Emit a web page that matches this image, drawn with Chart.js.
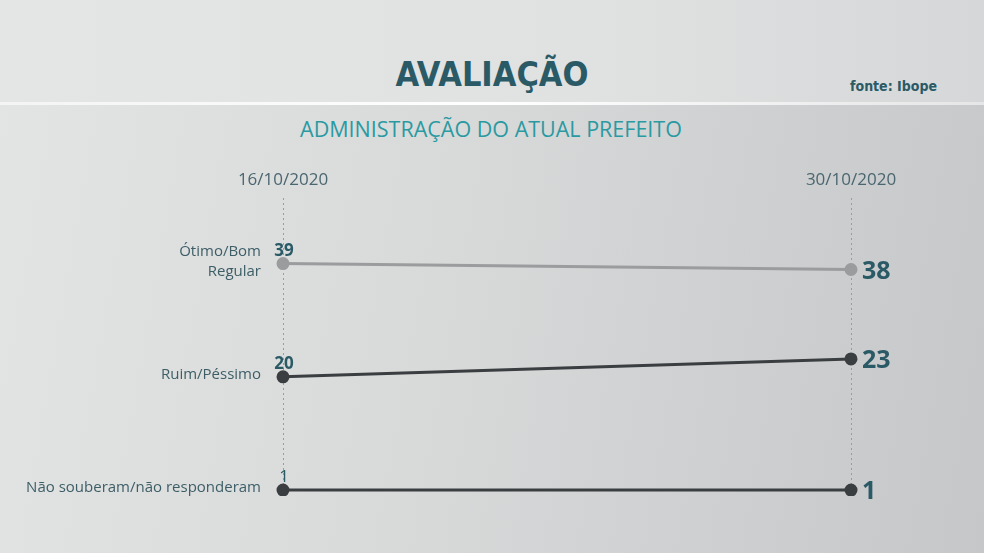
<!DOCTYPE html>
<html>
<head>
<meta charset="utf-8">
<script src="https://cdn.jsdelivr.net/npm/chart.js@4"></script>
<style>
  html, body { margin: 0; padding: 0; }
  body {
    width: 984px; height: 553px; overflow: hidden; position: relative;
    background: linear-gradient(100deg, #e3e4e4 0%, #d8d9d9 45%, #c6c7c9 100%);
    font-family: Lato, "Open Sans", sans-serif;
  }
  #header {
    position: absolute; left: 0; top: 0; width: 984px; height: 102px;
    background: linear-gradient(90deg, #e4e5e5 0%, #e0e1e1 60%, #d6d7d8 100%);
  }
  #rule {
    position: absolute; left: 0; top: 102px; width: 984px; height: 3px;
    background: linear-gradient(90deg, #f4f4f4, #ffffff 50%, #e6e6e6);
  }
  #title {
    position: absolute; left: 0; width: 984px; top: 54px; text-align: center;
    font-family: "DejaVu Sans Condensed", "DejaVu Sans", sans-serif; font-weight: bold;
    font-size: 34px; color: #2a5a66;
  }
  #fonte {
    position: absolute; left: 850px; top: 78px;
    font-family: "DejaVu Sans Condensed", sans-serif; font-weight: bold;
    font-size: 14px; color: #2a5a66;
  }
  #subtitle {
    position: absolute; left: 0; width: 982px; top: 114px; text-align: center;
    font-family: "Open Sans", sans-serif; font-size: 21.5px; color: #2a9aa2;
  }
  #wrap { position: absolute; left: 0; top: 0; width: 984px; height: 553px; }
</style>
</head>
<body>
<div id="header"></div>
<div id="rule"></div>
<div id="title">AVALIAÇÃO</div>
<div id="fonte">fonte: Ibope</div>
<div id="subtitle">ADMINISTRAÇÃO DO ATUAL PREFEITO</div>
<div id="wrap"><canvas id="chart"></canvas></div>
<script>
var dates = ['16/10/2020', '30/10/2020'];
var otimoBom = [39, 38];
var ruimPessimo = [20, 23];
var naoSouberam = [1, 1];
var seriesNames = [['Ótimo/Bom', 'Regular'], ['Ruim/Péssimo'], ['Não souberam/não responderam']];

var labelPlugin = {
    id: 'valueLabels',
    afterDatasetsDraw: function(chart) {
        var ctx = chart.ctx;
        ctx.save();
        chart.data.datasets.forEach(function(ds, i) {
            var pts = chart.getDatasetMeta(i).data;
            var first = pts[0], last = pts[pts.length - 1];
            var small = ds.data[0] < 10;

            // left value, above the first point
            ctx.fillStyle = '#2a5a66';
            ctx.textAlign = 'center';
            ctx.textBaseline = 'bottom';
            ctx.font = small ? '17px "Open Sans", sans-serif' : 'bold 17px "Open Sans", sans-serif';
            ctx.fillText(ds.data[0], first.x + 1, first.y - 4);

            // right value, next to the last point
            ctx.textAlign = 'left';
            ctx.textBaseline = 'middle';
            ctx.font = 'bold 25px "Open Sans", sans-serif';
            ctx.fillText(ds.data[ds.data.length - 1], last.x + 11, last.y + 2);

            // category name on the left
            ctx.textAlign = 'right';
            ctx.fillStyle = '#3d5e67';
            ctx.font = '15px "Open Sans", sans-serif';
            var names = seriesNames[i];
            if (names.length === 2) {
                ctx.fillText(names[0], first.x - 22, first.y - 12);
                ctx.fillText(names[1], first.x - 22, first.y + 8);
            } else {
                ctx.fillText(names[0], first.x - 22, first.y - 2);
            }
        });
        ctx.restore();
    }
};

new Chart(document.getElementById('chart').getContext('2d'), {
    type: 'line',
    data: {
        labels: dates,
        datasets: [{
            label: 'Ótimo/Bom',
            data: otimoBom,
            borderColor: '#9a9c9d',
            backgroundColor: '#9a9c9d',
            borderWidth: 3,
            pointRadius: 5
        }, {
            label: 'Ruim/Péssimo',
            data: ruimPessimo,
            borderColor: '#3b3e40',
            backgroundColor: '#3b3e40',
            borderWidth: 3,
            pointRadius: 5
        }, {
            label: 'Não souberam/não responderam',
            data: naoSouberam,
            borderColor: '#3b3e40',
            backgroundColor: '#3b3e40',
            borderWidth: 3,
            pointRadius: 5
        }]
    },
    options: {
        responsive: true,
        maintainAspectRatio: false,
        animation: false,
        layout: { padding: { left: 283, right: 133, top: 148, bottom: 57 } },
        plugins: {
            legend: { display: false },
            tooltip: { enabled: false }
        },
        scales: {
            x: {
                position: 'top',
                offset: false,
                grid: { color: '#9c9c9c', lineWidth: 1, drawTicks: false },
                border: { display: false, dash: [2, 3] },
                ticks: { color: '#4a6670', font: { family: 'Open Sans', size: 17 }, padding: 8 },
                afterFit: function(s) { s.height = 50; }
            },
            y: {
                display: false,
                min: 0,
                max: 50
            }
        }
    },
    plugins: [labelPlugin]
});
</script>
</body>
</html>
